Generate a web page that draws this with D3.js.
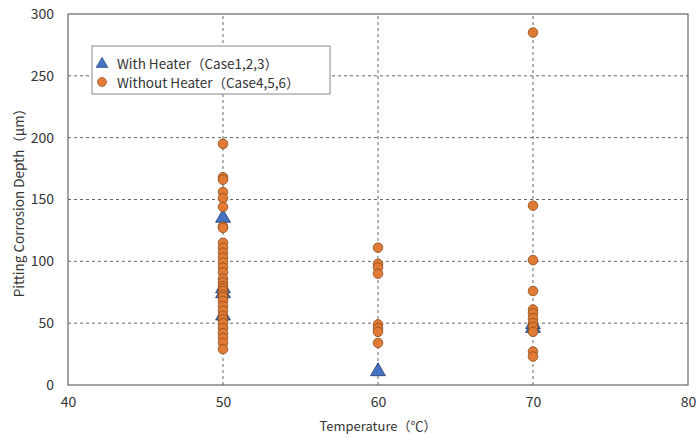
<!DOCTYPE html>
<html><head><meta charset="utf-8">
<script src="https://cdn.jsdelivr.net/npm/d3@7"></script>
<style>body{margin:0;background:#fff;} text{font-family:"Noto Sans CJK JP","Noto Sans",sans-serif;}</style>
</head><body>
<svg id="c" width="699" height="438"></svg>
<script>
const xTicks = [40, 50, 60, 70, 80];
const yTicks = [0, 50, 100, 150, 200, 250, 300];
const heaterTemp = [50, 50, 50, 50, 60, 70, 70];
const heaterDepth = [135, 78, 74, 56, 11, 49, 46];
const noHeaterTemp = [
  50,50,50,50,50,50,50,50,50,50,50,50,50,50,50,50,50,50,50,50,50,50,50,50,50,50,50,50,50,50,50,50,50,
  60,60,60,60,60,60,60,60,
  70,70,70,70,70,70,70,70,70,70,70,70];
const noHeaterDepth = [
  195,168,166,156,151,144,128,127,115,111,107,103,99,95,91,86,83,80,78,76,73,71,68,64,60,56,53,50,46,42,38,34,29,
  111,98,95,90,49,46,43,34,
  285,145,101,76,61,58,54,50,47,43,27,23];
const legendLabels = ["With Heater（Case1,2,3）", "Without Heater（Case4,5,6）"];

const svg = d3.select("#c");
const m = {l: 68, r: 11, t: 14, b: 53};
const W = 699, H = 438;
const x = d3.scaleLinear().domain([40, 80]).range([m.l, W - m.r]);
const y = d3.scaleLinear().domain([0, 300]).range([H - m.b, m.t]);

const grid = svg.append("g");
grid.selectAll(".gx").data(xTicks.slice(1, -1)).join("line")
  .attr("x1", d => x(d)).attr("x2", d => x(d)).attr("y1", y(0)).attr("y2", y(300))
  .attr("stroke", "#666").attr("stroke-dasharray", "3,3").attr("stroke-width", 1);
grid.selectAll(".gy").data(yTicks.slice(1, -1)).join("line")
  .attr("x1", x(40)).attr("x2", x(80)).attr("y1", d => y(d)).attr("y2", d => y(d))
  .attr("stroke", "#666").attr("stroke-dasharray", "3,3").attr("stroke-width", 1);

svg.append("rect").attr("x", x(40)).attr("y", y(300)).attr("width", x(80) - x(40)).attr("height", y(0) - y(300))
  .attr("fill", "none").attr("stroke", "#666").attr("stroke-width", 1.2);

const xAxis = svg.append("g").attr("transform", `translate(0,${y(0)})`)
  .call(d3.axisBottom(x).tickValues(xTicks).tickSize(0).tickPadding(12));
const yAxis = svg.append("g").attr("transform", `translate(${x(40)},0)`)
  .call(d3.axisLeft(y).tickValues(yTicks).tickSize(0).tickPadding(14));
[xAxis, yAxis].forEach(a => {
  a.select(".domain").remove();
  a.selectAll("text").attr("font-size", 14).attr("fill", "#333")
    .attr("font-family", '"Noto Sans CJK JP","Noto Sans",sans-serif');
});

svg.append("text").attr("x", (x(40) + x(80)) / 2).attr("y", 431).attr("text-anchor", "middle")
  .attr("font-size", 13).attr("fill", "#333").text("Temperature（℃）");
svg.append("text").attr("transform", `translate(24,${(y(0) + y(300)) / 2}) rotate(-90)`)
  .attr("text-anchor", "middle").attr("font-size", 13.5).attr("fill", "#333")
  .text("Pitting Corrosion Depth（μm）");

const orange = "#E07A35", blue = "#4472C4";
const noH = noHeaterTemp.map((t, i) => ({t, d: noHeaterDepth[i]}));
const withH = heaterTemp.map((t, i) => ({t, d: heaterDepth[i]}));

const tri = d3.symbol().type(d3.symbolTriangle).size(95);
svg.append("g").selectAll("path").data(withH).join("path")
  .attr("transform", d => `translate(${x(d.t)},${y(d.d)})`).attr("d", tri)
  .attr("fill", blue).attr("stroke", "#1f3864").attr("stroke-width", 0.8);

svg.append("g").selectAll("circle").data(noH).join("circle")
  .attr("cx", d => x(d.t)).attr("cy", d => y(d.d)).attr("r", 4.8)
  .attr("fill", orange).attr("stroke", "#8a4a1c").attr("stroke-width", 0.8);

// legend
const lg = svg.append("g");
lg.append("rect").attr("x", 92).attr("y", 46).attr("width", 238).attr("height", 48)
  .attr("fill", "#fff").attr("stroke", "#888").attr("stroke-width", 1);
lg.append("path").attr("transform", "translate(102,64)").attr("d", d3.symbol().type(d3.symbolTriangle).size(60))
  .attr("fill", blue).attr("stroke", "#1f3864").attr("stroke-width", 0.6);
lg.append("circle").attr("cx", 102).attr("cy", 82).attr("r", 4.5)
  .attr("fill", orange).attr("stroke", "#8a4a1c").attr("stroke-width", 0.6);
lg.selectAll("text").data(legendLabels).join("text")
  .attr("x", 117).attr("y", (d, i) => 64 + i * 19).attr("dy", "0.35em")
  .attr("font-size", 13.5).attr("fill", "#333").text(d => d);
</script>
</body></html>
